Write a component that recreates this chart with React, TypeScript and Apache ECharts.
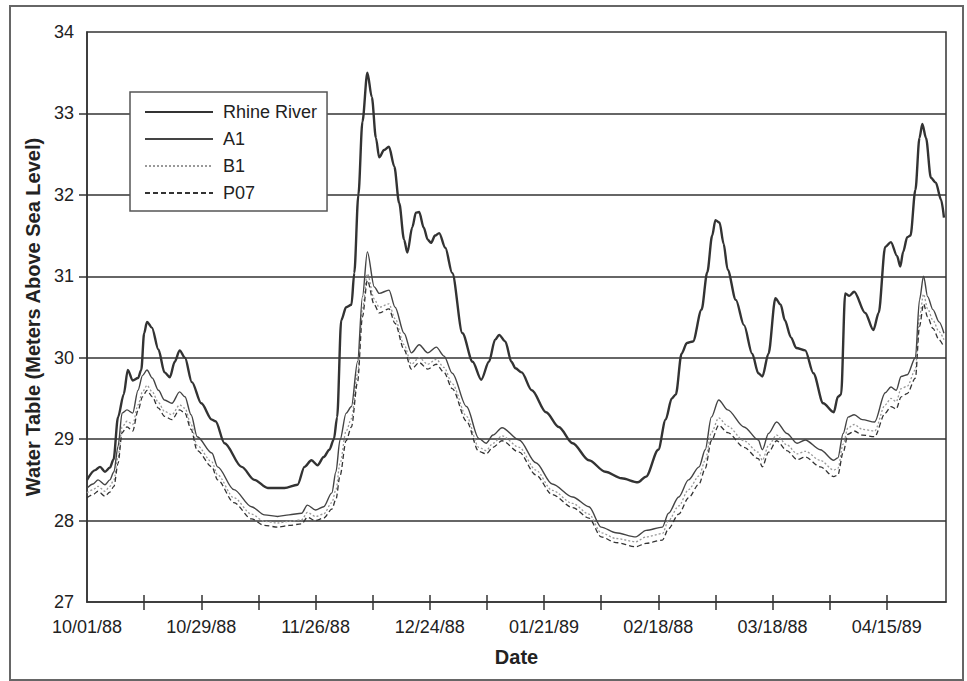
import React, { useEffect, useRef } from "react";
import * as echarts from "echarts";

// [day since 10/01/88, water level (m above sea level)]
const rhine: number[][] = [
  [0, 28.5], [2, 28.62], [3.2, 28.66], [4.4, 28.6], [5.6, 28.65], [6.5, 28.75], [7.6, 29.27], [9, 29.55], [10, 29.85],
  [11.2, 29.72], [12.5, 29.75], [13.3, 29.85], [14, 30.3], [14.7, 30.44], [15.9, 30.37], [17.5, 30.1], [19, 29.82],
  [20.3, 29.76], [21.5, 29.95], [22.7, 30.09], [24, 30.0], [25.7, 29.7], [28, 29.44], [30.6, 29.24], [31.5, 29.22],
  [33.7, 28.95], [37.9, 28.66], [41, 28.5], [44.3, 28.4], [48.4, 28.4], [51.6, 28.44], [53.3, 28.66], [55, 28.74],
  [56.5, 28.68], [58, 28.78], [59.4, 28.87], [60.5, 29.0], [61.3, 29.27], [62.3, 30.46], [63.5, 30.62], [64.8, 30.65],
  [65.5, 31.04], [66.5, 32.0], [67.5, 32.9], [68.7, 33.5], [69.8, 33.2], [70.8, 32.7], [71.6, 32.46], [72.8, 32.55],
  [74, 32.59], [75.3, 32.35], [76.5, 31.9], [77.7, 31.45], [78.5, 31.29], [79.7, 31.6], [80.6, 31.78], [81.4, 31.79],
  [82.5, 31.6], [83.5, 31.45], [84.3, 31.41], [85.3, 31.5], [86.3, 31.53], [87.8, 31.35], [89.5, 31.04], [92, 30.3],
  [94.5, 29.95], [96.6, 29.73], [98.5, 29.95], [100, 30.22], [101, 30.28], [102.5, 30.2], [104, 29.95], [105, 29.87],
  [106.5, 29.82], [109, 29.6], [112.5, 29.33], [115.6, 29.15], [119, 28.95], [123, 28.74], [127, 28.6], [131, 28.52],
  [135, 28.47], [137, 28.54], [140, 28.87], [141.8, 29.24], [143.3, 29.5], [144.3, 29.55], [145.7, 30.05], [147, 30.18],
  [148.5, 30.2], [150.6, 30.59], [152, 31.05], [153.2, 31.5], [154, 31.69], [155, 31.66], [156, 31.4], [157, 31.08],
  [159, 30.71], [161, 30.4], [163, 30.05], [164.5, 29.81], [165.5, 29.77], [167, 30.05], [168.7, 30.73], [170, 30.65],
  [171, 30.46], [172.5, 30.25], [173.8, 30.12], [176, 30.09], [178, 29.81], [180.4, 29.44], [183, 29.33], [184, 29.52],
  [184.8, 29.55], [185.8, 30.79], [186.8, 30.76], [188, 30.81], [190.7, 30.55], [192.7, 30.34], [194, 30.55],
  [195.6, 31.36], [197, 31.42], [198.5, 31.25], [199.3, 31.12], [200, 31.3], [201, 31.48], [201.8, 31.5], [203, 32.06],
  [204, 32.7], [204.7, 32.87], [205.6, 32.7], [206.8, 32.21], [208, 32.15], [209.3, 31.94], [210, 31.72],
];

const a1: number[][] = [
  [0, 28.4], [1.5, 28.45], [2.7, 28.5], [4.4, 28.44], [5.6, 28.5], [6.6, 28.6], [7.6, 28.91], [8.6, 29.32], [9.8, 29.36],
  [11.2, 29.32], [12.5, 29.6], [13.6, 29.78], [14.7, 29.85], [16, 29.75], [17.5, 29.6], [19, 29.48], [20.8, 29.44],
  [22.7, 29.58], [24, 29.52], [25.5, 29.3], [27, 29.03], [30.6, 28.83], [32, 28.66], [36, 28.38], [40.3, 28.17],
  [43.5, 28.07], [46.7, 28.05], [49.5, 28.07], [52.6, 28.09], [54, 28.19], [56, 28.13], [58, 28.17], [60, 28.34],
  [61, 28.6], [62, 28.99], [63.5, 29.32], [64.8, 29.4], [66.3, 29.95], [67.5, 30.75], [68.7, 31.3], [70.4, 30.87],
  [71.6, 30.79], [74, 30.83], [75.5, 30.62], [77.7, 30.3], [79.5, 30.06], [81.4, 30.16], [83.5, 30.06], [85.6, 30.13],
  [87.5, 30.02], [89.5, 29.81], [93, 29.4], [96, 29.01], [97.8, 28.95], [99.5, 29.05], [101.7, 29.14], [105.9, 28.99],
  [110, 28.71], [114, 28.45], [119, 28.29], [123, 28.17], [126, 27.92], [129.6, 27.85], [134.5, 27.8], [137, 27.88],
  [141, 27.92], [142.5, 28.09], [145, 28.29], [147.4, 28.5], [150, 28.66], [151.5, 28.87], [153, 29.27], [154.8, 29.48],
  [157, 29.36], [161, 29.15], [164.5, 28.99], [165.5, 28.87], [167, 29.07], [169, 29.21], [171.5, 29.07], [174, 28.95],
  [176, 28.99], [179.7, 28.87], [183, 28.74], [184, 28.77], [185.3, 29.07], [186.5, 29.27], [188, 29.3], [190, 29.24],
  [193, 29.21], [195.6, 29.57], [197, 29.64], [198.3, 29.6], [199.5, 29.77], [201, 29.79], [203, 30.0], [204, 30.71],
  [205, 31.0], [206, 30.75], [207.3, 30.59], [208.8, 30.44], [210, 30.3],
];

const b1: number[][] = [
  [0, 28.34], [1.5, 28.38], [2.7, 28.42], [4.4, 28.36], [5.6, 28.42], [6.6, 28.5], [7.6, 28.78], [8.6, 29.15], [9.8, 29.22],
  [11.2, 29.18], [12.5, 29.42], [13.6, 29.58], [14.7, 29.66], [16, 29.58], [17.5, 29.45], [19, 29.34], [20.8, 29.3],
  [22.7, 29.42], [24, 29.38], [25.5, 29.18], [27, 28.92], [30.6, 28.72], [32, 28.56], [36, 28.28], [40.3, 28.08],
  [43.5, 27.99], [46.7, 27.97], [49.5, 27.99], [52.6, 28.01], [54, 28.1], [56, 28.05], [58, 28.08], [60, 28.22],
  [61, 28.38], [62, 28.7], [63.5, 29.1], [64.8, 29.25], [66.3, 29.8], [67.5, 30.6], [68.7, 31.03], [70.4, 30.72],
  [71.6, 30.62], [74, 30.66], [75.5, 30.48], [77.7, 30.16], [79.5, 29.92], [81.4, 30.0], [83.5, 29.92], [85.6, 29.98],
  [87.5, 29.88], [89.5, 29.68], [93, 29.28], [96, 28.9], [97.8, 28.86], [99.5, 28.95], [101.7, 29.04], [105.9, 28.9],
  [110, 28.62], [114, 28.37], [119, 28.21], [123, 28.08], [126, 27.85], [129.6, 27.78], [134.5, 27.74], [137, 27.8],
  [141, 27.84], [142.5, 28.0], [145, 28.18], [147.4, 28.38], [150, 28.55], [151.5, 28.74], [153, 29.08], [154.8, 29.26],
  [157, 29.16], [161, 28.98], [164.5, 28.84], [165.5, 28.74], [167, 28.92], [169, 29.05], [171.5, 28.93], [174, 28.82],
  [176, 28.85], [179.7, 28.74], [183, 28.62], [184, 28.64], [185.3, 28.94], [186.5, 29.14], [188, 29.18], [190, 29.12],
  [193, 29.1], [195.6, 29.42], [197, 29.5], [198.3, 29.46], [199.5, 29.62], [201, 29.65], [203, 29.85], [204, 30.5],
  [205, 30.78], [206, 30.6], [207.3, 30.46], [208.8, 30.32], [210, 30.22],
];

const p07: number[][] = [
  [0, 28.28], [1.5, 28.32], [2.7, 28.36], [4.4, 28.3], [5.6, 28.35], [6.6, 28.42], [7.6, 28.7], [8.6, 29.08], [9.8, 29.15],
  [11.2, 29.1], [12.5, 29.35], [13.6, 29.52], [14.7, 29.6], [16, 29.52], [17.5, 29.38], [19, 29.28], [20.8, 29.24],
  [22.7, 29.36], [24, 29.32], [25.5, 29.12], [27, 28.86], [30.6, 28.66], [32, 28.5], [36, 28.22], [40.3, 28.02],
  [43.5, 27.94], [46.7, 27.92], [49.5, 27.94], [52.6, 27.96], [54, 28.04], [56, 28.0], [58, 28.03], [60, 28.14],
  [61, 28.26], [62, 28.55], [63.5, 28.98], [64.8, 29.15], [66.3, 29.7], [67.5, 30.5], [68.7, 30.95], [70.4, 30.65],
  [71.6, 30.55], [74, 30.6], [75.5, 30.42], [77.7, 30.1], [79.5, 29.86], [81.4, 29.94], [83.5, 29.86], [85.6, 29.92],
  [87.5, 29.82], [89.5, 29.62], [93, 29.22], [96, 28.85], [97.8, 28.82], [99.5, 28.9], [101.7, 28.98], [105.9, 28.84],
  [110, 28.56], [114, 28.32], [119, 28.16], [123, 28.03], [126, 27.8], [129.6, 27.73], [134.5, 27.68], [137, 27.72],
  [141, 27.76], [142.5, 27.9], [145, 28.08], [147.4, 28.28], [150, 28.45], [151.5, 28.64], [153, 28.98], [154.8, 29.17],
  [157, 29.08], [161, 28.9], [164.5, 28.76], [165.5, 28.66], [167, 28.84], [169, 28.98], [171.5, 28.86], [174, 28.75],
  [176, 28.78], [179.7, 28.66], [183, 28.54], [184, 28.56], [185.3, 28.84], [186.5, 29.06], [188, 29.1], [190, 29.05],
  [193, 29.03], [195.6, 29.32], [197, 29.4], [198.3, 29.37], [199.5, 29.52], [201, 29.56], [203, 29.75], [204, 30.38],
  [205, 30.66], [206, 30.5], [207.3, 30.36], [208.8, 30.22], [210, 30.13],
];

const xTickDays = [14, 28, 42, 56, 70, 84, 98, 112, 126, 140, 154, 168, 182, 196];
const xLabelDays = [0, 28, 56, 84, 112, 140, 168, 196];
const xLabelTexts = ["10/01/88", "10/29/88", "11/26/88", "12/24/88", "01/21/89", "02/18/88", "03/18/88", "04/15/89"];
const yTicks = [28, 29, 30, 31, 32, 33];

const FONT = "'Liberation Sans', Arial, Helvetica, sans-serif";

export default function App() {
  const ref = useRef<HTMLDivElement>(null);
  useEffect(() => {
    if (!ref.current) return;
    const chart = echarts.init(ref.current, null, { renderer: "svg" });
    const labelMap: Record<string, string> = {};
    xLabelDays.forEach((d, i) => (labelMap[String(d)] = xLabelTexts[i]));
    const xCommon = { type: "value", min: 0, max: 210.5, gridIndex: 0 };
    chart.setOption({
      animation: false,
      backgroundColor: "#ffffff",
      textStyle: { fontFamily: FONT },
      graphic: [
        {
          type: "rect",
          shape: { x: 10, y: 6, width: 953, height: 674 },
          style: { fill: "none", stroke: "#666", lineWidth: 2 },
          silent: true,
          z: 0,
        },
      ],
      grid: {
        left: 87,
        right: 21,
        top: 32,
        bottom: 79,
        show: true,
        borderColor: "#333",
        borderWidth: 1.5,
        backgroundColor: "transparent",
      },
      legend: {
        orient: "vertical",
        left: 130,
        top: 92,
        itemWidth: 68,
        itemHeight: 14,
        itemGap: 9,
        padding: [11, 10, 9, 14],
        borderColor: "#555",
        borderWidth: 1.5,
        backgroundColor: "#fff",
        itemStyle: { opacity: 0 },
        textStyle: { fontFamily: FONT, fontSize: 18, color: "#222", padding: [0, 0, 0, 5] },
        data: ["Rhine River", "A1", "B1", "P07"],
      },
      xAxis: [
        {
          ...xCommon,
          name: "Date",
          nameLocation: "middle",
          nameGap: 45,
          nameTextStyle: { fontFamily: FONT, fontSize: 20, fontWeight: "bold", color: "#222" },
          axisLine: { show: true, lineStyle: { color: "#333", width: 1.5 } },
          axisTick: { show: true, length: 8, inside: false, customValues: xTickDays, lineStyle: { color: "#333", width: 1.5 } },
          axisLabel: {
            show: true,
            margin: 16,
            customValues: xLabelDays,
            fontFamily: FONT,
            fontSize: 18,
            color: "#222",
            formatter: (v: number) => labelMap[String(v)] ?? "",
          },
          splitLine: { show: false },
        },
        {
          ...xCommon,
          position: "bottom",
          axisLine: { show: false },
          axisTick: { show: true, length: 7, inside: true, customValues: xTickDays, lineStyle: { color: "#333", width: 1.5 } },
          axisLabel: { show: false },
          splitLine: { show: false },
        },
      ],
      yAxis: {
        type: "value",
        min: 27,
        max: 34,
        interval: 1,
        name: "Water Table (Meters Above Sea Level)",
        nameLocation: "middle",
        nameGap: 41,
        nameTextStyle: { fontFamily: FONT, fontSize: 20, fontWeight: "bold", color: "#222" },
        axisLine: { show: true, lineStyle: { color: "#333", width: 1.5 } },
        axisTick: { show: true, length: 8, customValues: yTicks, lineStyle: { color: "#333", width: 1.5 } },
        axisLabel: { margin: 13, fontFamily: FONT, fontSize: 18, color: "#222" },
        splitLine: { show: true, lineStyle: { color: "#333", width: 1.5 } },
      },
      series: [
        {
          name: "Rhine River",
          type: "line",
          data: rhine,
          showSymbol: false,
          symbol: "none",
          smooth: 0.3,
          smoothMonotone: "x",
          lineStyle: { color: "#333", width: 2.4 },
          itemStyle: { color: "#333" },
          z: 5,
        },
        {
          name: "A1",
          type: "line",
          data: a1,
          showSymbol: false,
          symbol: "none",
          smooth: 0.3,
          smoothMonotone: "x",
          lineStyle: { color: "#444", width: 1.4 },
          itemStyle: { color: "#444" },
          z: 4,
        },
        {
          name: "B1",
          type: "line",
          data: b1,
          showSymbol: false,
          symbol: "none",
          smooth: 0.3,
          smoothMonotone: "x",
          lineStyle: { color: "#999", width: 1.3, type: [2, 2] },
          itemStyle: { color: "#999" },
          z: 3,
        },
        {
          name: "P07",
          type: "line",
          data: p07,
          showSymbol: false,
          symbol: "none",
          smooth: 0.3,
          smoothMonotone: "x",
          lineStyle: { color: "#333", width: 1.3, type: [5, 3] },
          itemStyle: { color: "#333" },
          z: 3,
        },
      ],
    });
    return () => chart.dispose();
  }, []);
  return (
    <div
      ref={ref}
      style={{ position: "fixed", left: 0, top: 0, width: 967, height: 681, background: "#fff" }}
    />
  );
}
